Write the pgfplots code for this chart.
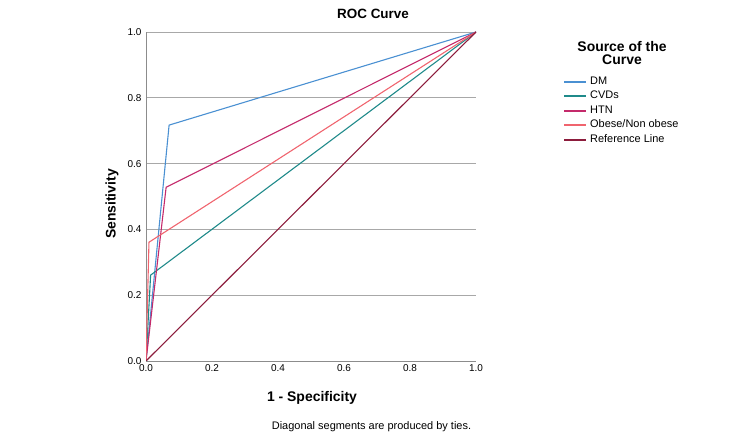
\documentclass[border=0pt]{standalone}
\usepackage{pgfplots}
\pgfplotsset{compat=1.18}
\usepackage{fontspec}
\setmainfont{Liberation Sans}
\definecolor{cDM}{HTML}{4A90D2}
\definecolor{cCVD}{HTML}{1F8A8A}
\definecolor{cHTN}{HTML}{C42A6B}
\definecolor{cOB}{HTML}{F0646E}
\definecolor{cREF}{HTML}{8C1C3C}
\definecolor{gridgray}{HTML}{A8A8A8}
\definecolor{axgray}{HTML}{8C8C8C}
\begin{document}
\begin{tikzpicture}
\useasboundingbox (0,0) rectangle (750bp,441bp);
\begin{axis}[
  at={(146bp,80bp)}, anchor=south west,
  scale only axis, width=330bp, height=329bp,
  xmin=0, xmax=1, ymin=0, ymax=1,
  axis x line*=bottom, axis y line*=left,
  axis line style={-, axgray, line width=0.9bp},
  xtick={0,0.2,0.4,0.6,0.8,1.0},
  ytick={0,0.2,0.4,0.6,0.8,1.0},
  major tick length=0pt,
  ymajorgrids, grid style={gridgray, line width=0.9bp},
  /pgf/number format/assume math mode=true,
  /pgf/number format/.cd, fixed, fixed zerofill, precision=1, /pgfplots/.cd,
  tick label style={font=\fontsize{10}{12}\selectfont},
  yticklabel style={xshift=-1bp},
  title={ROC Curve},
  title style={at={(axis description cs:0.688,1.0365)}, anchor=center, font=\bfseries\fontsize{13.5}{16}\selectfont},
  xlabel={1 - Specificity},
  xlabel style={at={(axis description cs:0.503,-0.1125)}, anchor=center, font=\bfseries\fontsize{14}{16}\selectfont},
  ylabel={Sensitivity},
  ylabel style={at={(axis description cs:-0.103,0.477)}, anchor=center, rotate=0, font=\bfseries\fontsize{14}{16}\selectfont},
  legend style={at={(axis description cs:1.2636,0.866)}, anchor=north west, draw=none, fill=none,
    inner sep=0pt, row sep=4bp,
    nodes={inner sep=0pt, text height=8bp, text depth=2.5bp, font=\fontsize{11}{13}\selectfont}},
  legend cell align=left,
  legend image code/.code={\draw[#1, line width=2bp] (0bp,0bp) -- (22bp,0bp);},
  every axis plot/.append style={line width=1.1bp},
]
\addplot[cDM] coordinates {(0,0) (0.070,0.717) (1,1)};
\addlegendentry{\hspace{3bp}DM}
\addplot[cCVD] coordinates {(0,0) (0.014,0.261) (1,1)};
\addlegendentry{\hspace{3bp}CVDs}
\addplot[cHTN] coordinates {(0,0) (0.061,0.528) (1,1)};
\addlegendentry{\hspace{3bp}HTN}
\addplot[cOB] coordinates {(0,0) (0.009,0.361) (1,1)};
\addlegendentry{\hspace{3bp}Obese/Non obese}
\addplot[cREF] coordinates {(0,0) (1,1)};
\addlegendentry{\hspace{3bp}Reference Line}
\end{axis}
\node[align=center, font=\bfseries\fontsize{14}{14}\selectfont] at (622bp,388bp) {Source of the\\Curve};
\node[anchor=west, inner sep=0pt, font=\fontsize{11}{13}\selectfont] at (271.7bp,14bp) {Diagonal segments are produced by ties.};
\end{tikzpicture}
\end{document}
